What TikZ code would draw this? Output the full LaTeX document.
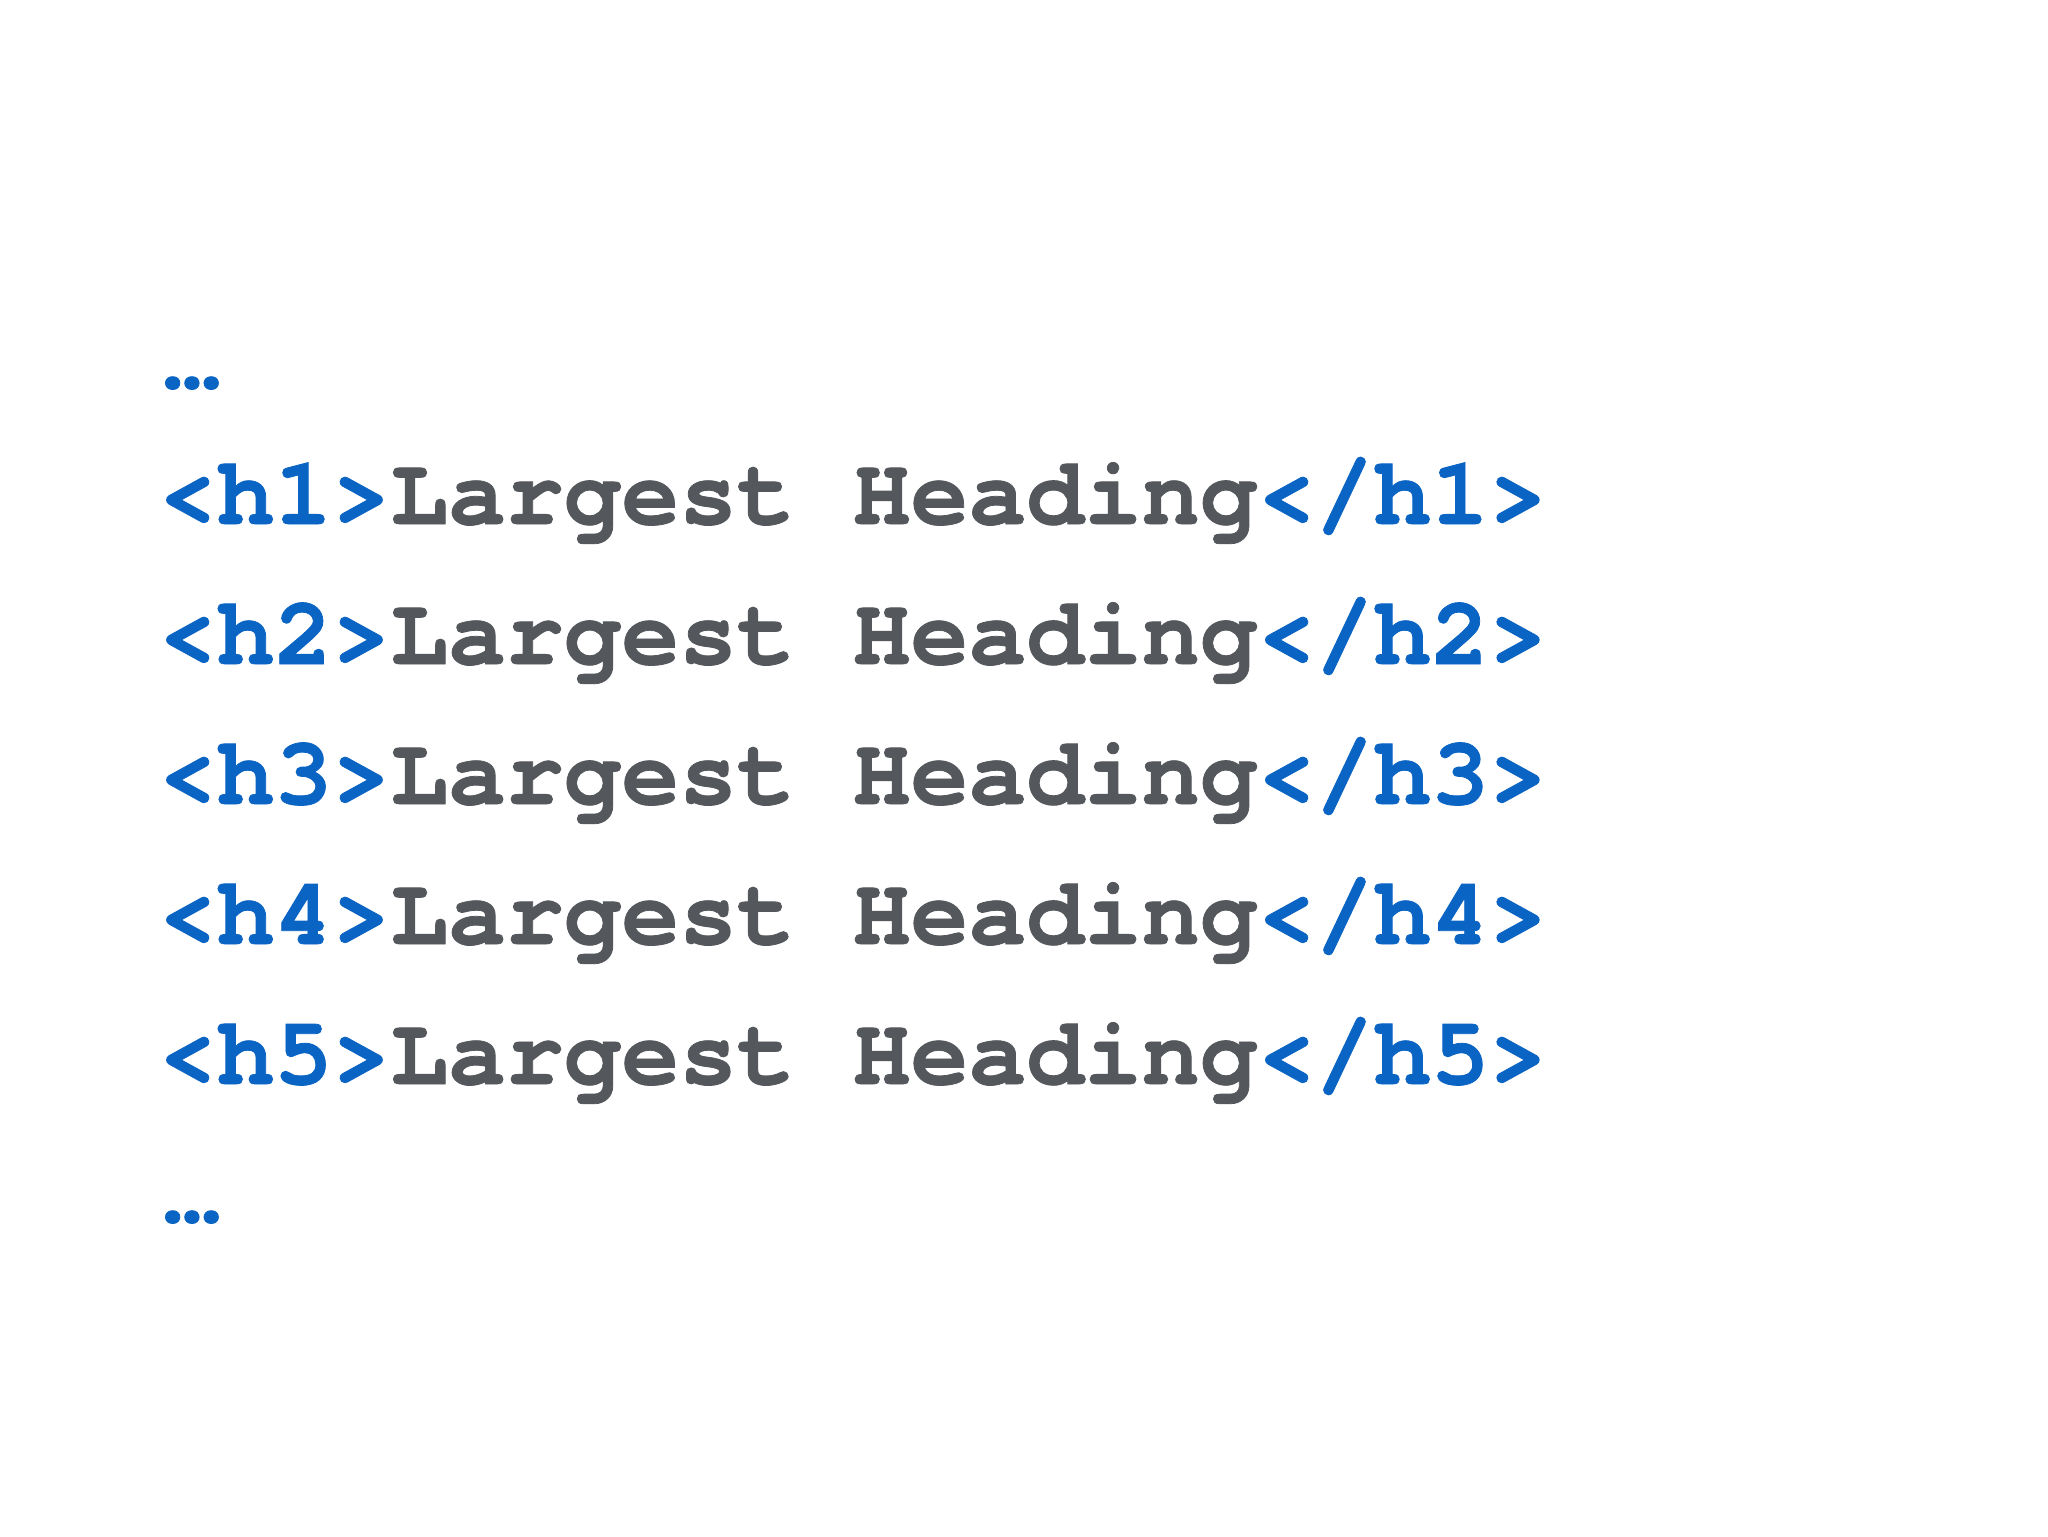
\documentclass[tikz,border=0pt]{standalone}
\usepackage{fontspec}
\newfontfamily\codefont{texgyrecursor}[Extension=.otf, UprightFont=*-bold, BoldFont=*-bold, FakeBold=0.8]
\definecolor{tagblue}{HTML}{0A64C4}
\definecolor{txtgray}{HTML}{54575B}
\begin{document}
\begin{tikzpicture}[x=1pt,y=1pt,
  codeline/.style={anchor=base west, inner sep=0pt, font=\codefont\fontsize{48.2}{48.2}\selectfont}]
\useasboundingbox[fill=white] (0,0) rectangle (1024,-768);
\newcommand{\tg}[1]{\textcolor{tagblue}{#1}}
\node[codeline, text=tagblue] (dtop) at (81.3,-194) {…};
\foreach \i/\yy in {1/262,2/332,3/402,4/472,5/542}{
  \node[codeline, text=txtgray] (h\i) at (79.2,-\yy) {\tg{<h\i>}Largest Heading\tg{</h\i>}};
}
\node[codeline, text=tagblue] (dbot) at (81.3,-611) {…};
\end{tikzpicture}
\end{document}
